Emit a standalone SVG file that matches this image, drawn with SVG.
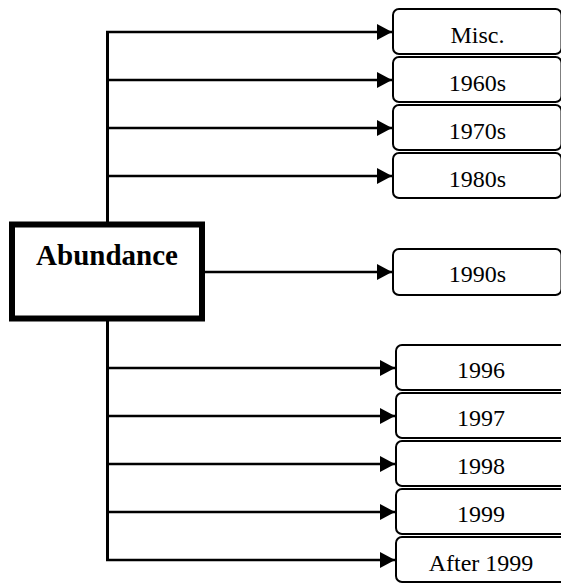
<svg xmlns="http://www.w3.org/2000/svg" width="561" height="584" viewBox="0 0 561 584">
<style>
.box{fill:#fff;stroke:#000;stroke-width:2}
.lbl{font-family:"Liberation Serif","Times New Roman",serif;font-size:24px;text-anchor:middle;fill:#000}
.main{fill:#fff;stroke:#000;stroke-width:6}
.mainlbl{font-family:"Liberation Serif","Times New Roman",serif;font-size:29px;font-weight:bold;text-anchor:middle;fill:#000}
.conn{stroke:#000;stroke-width:2.5;fill:none}
.trunk{stroke:#000;stroke-width:3;fill:none}
</style>
<defs>
<marker id="arr" viewBox="0 0 15 16" refX="15" refY="8" markerWidth="15" markerHeight="16" markerUnits="userSpaceOnUse" orient="auto">
<path d="M0,0 L15,8 L0,16 Z" fill="#000"/>
</marker>
</defs>
<g id="connectors">
<path class="trunk" d="M107.5,31 V561"/>
<path class="conn" d="M106,32 H392" marker-end="url(#arr)"/>
<path class="conn" d="M106,80 H392" marker-end="url(#arr)"/>
<path class="conn" d="M106,128 H392" marker-end="url(#arr)"/>
<path class="conn" d="M106,176 H392" marker-end="url(#arr)"/>
<path class="conn" d="M205,272 H392" marker-end="url(#arr)"/>
<path class="conn" d="M106,368 H395" marker-end="url(#arr)"/>
<path class="conn" d="M106,416 H395" marker-end="url(#arr)"/>
<path class="conn" d="M106,464 H395" marker-end="url(#arr)"/>
<path class="conn" d="M106,512 H395" marker-end="url(#arr)"/>
<path class="conn" d="M106,560 H395" marker-end="url(#arr)"/>
</g>
<g id="abundance">
<rect class="main" x="12" y="224.5" width="190" height="94"/>
<text class="mainlbl" x="107" y="265">Abundance</text>
</g>
<g id="misc">
<rect class="box" x="393" y="9" width="168.5" height="45" rx="6"/>
<text class="lbl" x="477.5" y="42.7">Misc.</text>
</g>
<g id="n1960s">
<rect class="box" x="393" y="57" width="168.5" height="45" rx="6"/>
<text class="lbl" x="477.5" y="90.7">1960s</text>
</g>
<g id="n1970s">
<rect class="box" x="393" y="105" width="168.5" height="45" rx="6"/>
<text class="lbl" x="477.5" y="138.7">1970s</text>
</g>
<g id="n1980s">
<rect class="box" x="393" y="153" width="168.5" height="45" rx="6"/>
<text class="lbl" x="477.5" y="186.7">1980s</text>
</g>
<g id="n1990s">
<rect class="box" x="393" y="249" width="168.5" height="46" rx="6"/>
<text class="lbl" x="477.5" y="281.7">1990s</text>
</g>
<g id="n1996">
<rect class="box" x="396" y="345" width="170" height="45" rx="6"/>
<text class="lbl" x="481" y="377.7">1996</text>
</g>
<g id="n1997">
<rect class="box" x="396" y="393" width="170" height="45" rx="6"/>
<text class="lbl" x="481" y="425.7">1997</text>
</g>
<g id="n1998">
<rect class="box" x="396" y="441" width="170" height="45" rx="6"/>
<text class="lbl" x="481" y="473.7">1998</text>
</g>
<g id="n1999">
<rect class="box" x="396" y="489" width="170" height="45" rx="6"/>
<text class="lbl" x="481" y="521.7">1999</text>
</g>
<g id="after1999">
<rect class="box" x="396" y="537" width="170" height="45" rx="6"/>
<text class="lbl" x="481" y="570.7">After 1999</text>
</g>
</svg>
